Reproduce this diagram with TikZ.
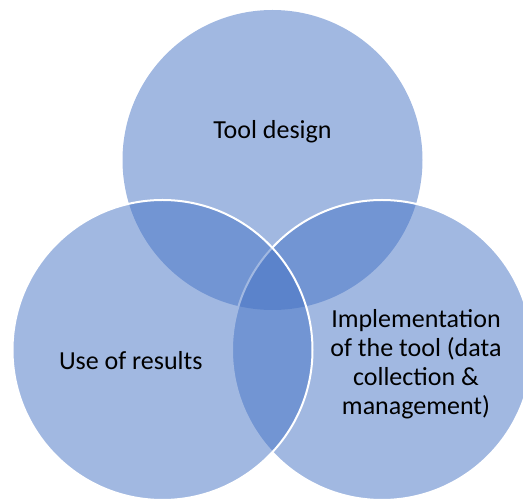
\documentclass[tikz,border=0pt]{standalone}
\usepackage{fontspec}
\setmainfont{Carlito}
\definecolor{vennblue}{HTML}{4472C4}
\begin{document}
\begin{tikzpicture}[x=1pt,y=-1pt,
  set/.style={fill=vennblue,fill opacity=0.5},
  rim/.style={draw=white,line width=2pt},
  label/.style={font=\fontsize{26}{29}\selectfont,text=black,inner sep=0pt,align=center}]
\useasboundingbox (0,0) rectangle (523,502);
% three overlapping sets; later fills veil earlier outlines
\fill[set] (272.5,160) circle[radius=150];
\path[set,rim] (382,350) circle[radius=150];
\path[set,rim] (162.5,350) circle[radius=150];
% labels
\node[label,anchor=base] (design) at (272.5,138.3) {Tool design};
\node[label,anchor=base] (use) at (130.8,369.5) {Use of results};
\node[label] (impl) at (416,364.5) {Implementation\\of the tool (data\\collection \&\\management)};
\end{tikzpicture}
\end{document}
